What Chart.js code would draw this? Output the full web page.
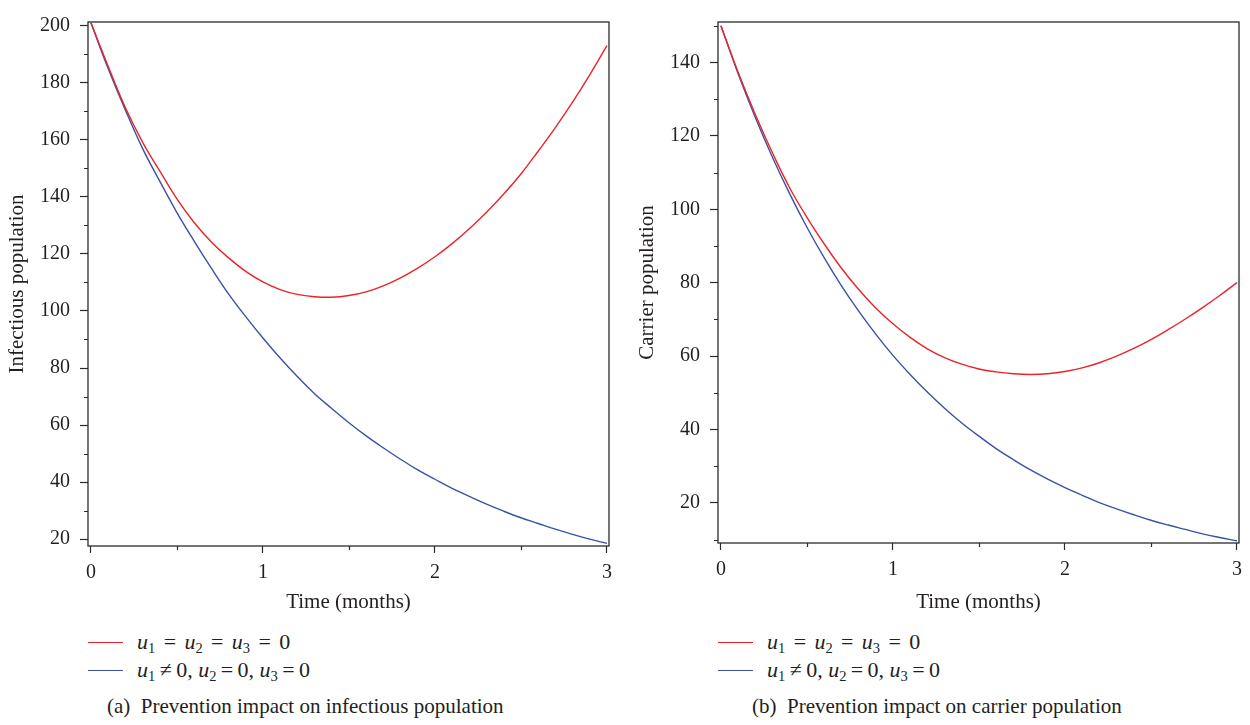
<!DOCTYPE html>
<html>
<head>
<meta charset="utf-8">
<script src="https://cdn.jsdelivr.net/npm/chart.js@4.4.0/dist/chart.umd.min.js"></script>
<style>
body{margin:0;background:#fff;width:1250px;height:725px;position:relative;overflow:hidden;font-family:"Liberation Serif",serif;color:#231f20}
canvas{position:absolute;top:0}
.legend{position:absolute;top:628px;font-size:22px}
.legend .row{position:relative;height:28px;line-height:28px;width:320px}
.legend .line{position:absolute;left:0;top:14px;width:35px;border-top:1.4px solid}
.legend .txt{position:absolute;left:49px;white-space:nowrap}
.legend sub{font-size:0.66em;vertical-align:-0.3em;line-height:0}
.legend .op{margin:0 0.2em}
.legend .op.wide{margin:0 0.38em}
.caption{position:absolute;top:694px;font-size:21px;white-space:nowrap}
</style>
</head>
<body>
<canvas id="chartA" width="620" height="620" style="left:0"></canvas>
<canvas id="chartB" width="620" height="620" style="left:630px"></canvas>
<div class="legend" id="legA" style="left:88px"></div>
<div class="legend" id="legB" style="left:718px"></div>
<div class="caption" style="left:107px">(a)&nbsp; Prevention impact on infectious population</div>
<div class="caption" style="left:752px">(b)&nbsp; Prevention impact on carrier population</div>
<script>
// 時間（月）
var timeMonths = [0,0.1,0.2,0.3,0.4,0.5,0.6,0.7,0.8,0.9,1.0,1.1,1.2,1.3,1.4,1.5,1.6,1.7,1.8,1.9,2.0,2.1,2.2,2.3,2.4,2.5,2.6,2.7,2.8,2.9,3.0];

// (a) infectious population
var infectNoControl = [201,185.8,171.3,159.2,149.1,139.3,131,124.2,118.6,113.9,110.2,107.5,105.8,105,104.8,105.4,106.7,108.8,111.6,115,119,123.6,128.8,134.6,141,148,156,164.3,173.2,182.8,193];
var infectPrevention = [201,185,170.5,157,145.5,134.5,124.5,115,106,98,90.5,83.5,77,71,65.8,60.8,56.2,52,48,44.3,41,37.8,35,32.3,29.8,27.5,25.5,23.5,21.7,20,18.5];

// (b) carrier population
var carrierNoControl = [150,137.3,125.8,115.3,105.8,97.8,90.6,84,78.2,73.1,68.8,65.1,62,59.6,57.8,56.5,55.7,55.2,55,55.2,55.8,56.8,58.2,60,62.1,64.5,67.2,70.1,73.2,76.5,80];
var carrierPrevention = [150,136.9,125,114.1,104.2,95.1,86.8,79.2,72.3,66,60.2,55,50.2,45.8,41.8,38.2,34.8,31.8,29,26.5,24.2,22.1,20.1,18.4,16.8,15.3,14,12.8,11.6,10.6,9.7];

// 目盛り
var timeTicks = [0,1,2,3];
var timeMinor = [0.5,1.5,2.5];
var infectYTicks = [20,40,60,80,100,120,140,160,180,200];
var infectYMinor = [30,50,70,90,110,130,150,170,190];
var carrierYTicks = [20,40,60,80,100,120,140];
var carrierYMinor = [10,30,50,70,90,110,130,150];

var seriesLabels = ['u1 = u2 = u3 = 0', 'u1 \u2260 0, u2 = 0, u3 = 0'];
var legendHtml = [
  '<i>u</i><sub>1</sub><span class="op wide">=</span><i>u</i><sub>2</sub><span class="op wide">=</span><i>u</i><sub>3</sub><span class="op wide">=</span>0',
  '<i>u</i><sub>1</sub><span class="op">\u2260</span>0, <i>u</i><sub>2</sub><span class="op">=</span>0, <i>u</i><sub>3</sub><span class="op">=</span>0'
];
var seriesColors = ['#ec2327', '#3b51a6'];

var axisColor = '#2b2b2b';
var serif = '"Liberation Serif", serif';

function toPoints(xs, ys) {
  var pts = [];
  for (var i = 0; i < xs.length; i++) pts.push({x: xs[i], y: ys[i]});
  return pts;
}

// 枠と補助目盛り
var framePlugin = {
  id: 'frame',
  afterDraw: function(chart) {
    var ctx = chart.ctx, a = chart.chartArea;
    var minor = chart.options.plugins.frame;
    ctx.save();
    ctx.strokeStyle = axisColor;
    ctx.lineWidth = 1.3;
    ctx.strokeRect(a.left, a.top, a.right - a.left, a.bottom - a.top);
    ctx.lineWidth = 1.2;
    ctx.beginPath();
    minor.y.forEach(function(v) {
      var py = Math.round(chart.scales.y.getPixelForValue(v)) + 0.5;
      ctx.moveTo(a.left - 4, py);
      ctx.lineTo(a.left, py);
    });
    minor.x.forEach(function(v) {
      var px = Math.round(chart.scales.x.getPixelForValue(v)) + 0.5;
      ctx.moveTo(px, a.bottom);
      ctx.lineTo(px, a.bottom + 4);
    });
    ctx.stroke();
    ctx.restore();
  }
};

function makeChart(id, yTitle, noCtrl, prev, yMin, yMax, yTicks, yMinor, topPad, xHeight) {
  var ctx = document.getElementById(id).getContext('2d');
  return new Chart(ctx, {
    type: 'line',
    data: {
      datasets: [
        {label: seriesLabels[0], data: toPoints(timeMonths, noCtrl), borderColor: seriesColors[0],
         borderWidth: 1.4, pointRadius: 0, fill: false, tension: 0.4},
        {label: seriesLabels[1], data: toPoints(timeMonths, prev), borderColor: seriesColors[1],
         borderWidth: 1.4, pointRadius: 0, fill: false, tension: 0.4}
      ]
    },
    options: {
      responsive: false,
      animation: false,
      layout: {padding: {top: topPad, right: 11, left: 0, bottom: 0}},
      plugins: {legend: {display: false}, tooltip: {enabled: false}, frame: {x: timeMinor, y: yMinor}},
      scales: {
        x: {
          type: 'linear', min: -0.017, max: 3.012,
          afterBuildTicks: function(s) { s.ticks = timeTicks.map(function(v) { return {value: v}; }); },
          afterFit: function(s) { s.height = xHeight; },
          border: {display: false},
          grid: {display: true, drawOnChartArea: false, drawTicks: true, tickLength: 7, tickColor: axisColor, tickWidth: 1.2},
          ticks: {color: '#231f20', font: {family: serif, size: 20}, padding: 8, maxRotation: 0,
                  callback: function(v) { return String(v); }},
          title: {display: true, text: 'Time (months)', color: '#231f20', font: {family: serif, size: 21}, padding: {top: 0, bottom: 5}}
        },
        y: {
          type: 'linear', min: yMin, max: yMax,
          afterBuildTicks: function(s) { s.ticks = yTicks.map(function(v) { return {value: v}; }); },
          afterFit: function(s) { s.width = 88; },
          border: {display: false},
          grid: {display: true, drawOnChartArea: false, drawTicks: true, tickLength: 8, tickColor: axisColor, tickWidth: 1.2},
          ticks: {color: '#231f20', font: {family: serif, size: 20}, padding: 10,
                  callback: function(v) { return String(v); }},
          title: {display: true, text: yTitle, color: '#231f20', font: {family: serif, size: 21}, padding: {top: 5, bottom: 0}}
        }
      }
    },
    plugins: [framePlugin]
  });
}

makeChart('chartA', 'Infectious population', infectNoControl, infectPrevention, 17.6, 201.3, infectYTicks, infectYMinor, 9, 74);
makeChart('chartB', 'Carrier population', carrierNoControl, carrierPrevention, 9.1, 151, carrierYTicks, carrierYMinor, 6, 77);

// 凡例
function buildLegend(id) {
  var box = document.getElementById(id);
  for (var i = 0; i < seriesColors.length; i++) {
    var row = document.createElement('div');
    row.className = 'row';
    row.innerHTML = '<span class="line" style="border-color:' + seriesColors[i] + '"></span><span class="txt">' + legendHtml[i] + '</span>';
    box.appendChild(row);
  }
}
buildLegend('legA');
buildLegend('legB');
</script>
</body>
</html>
